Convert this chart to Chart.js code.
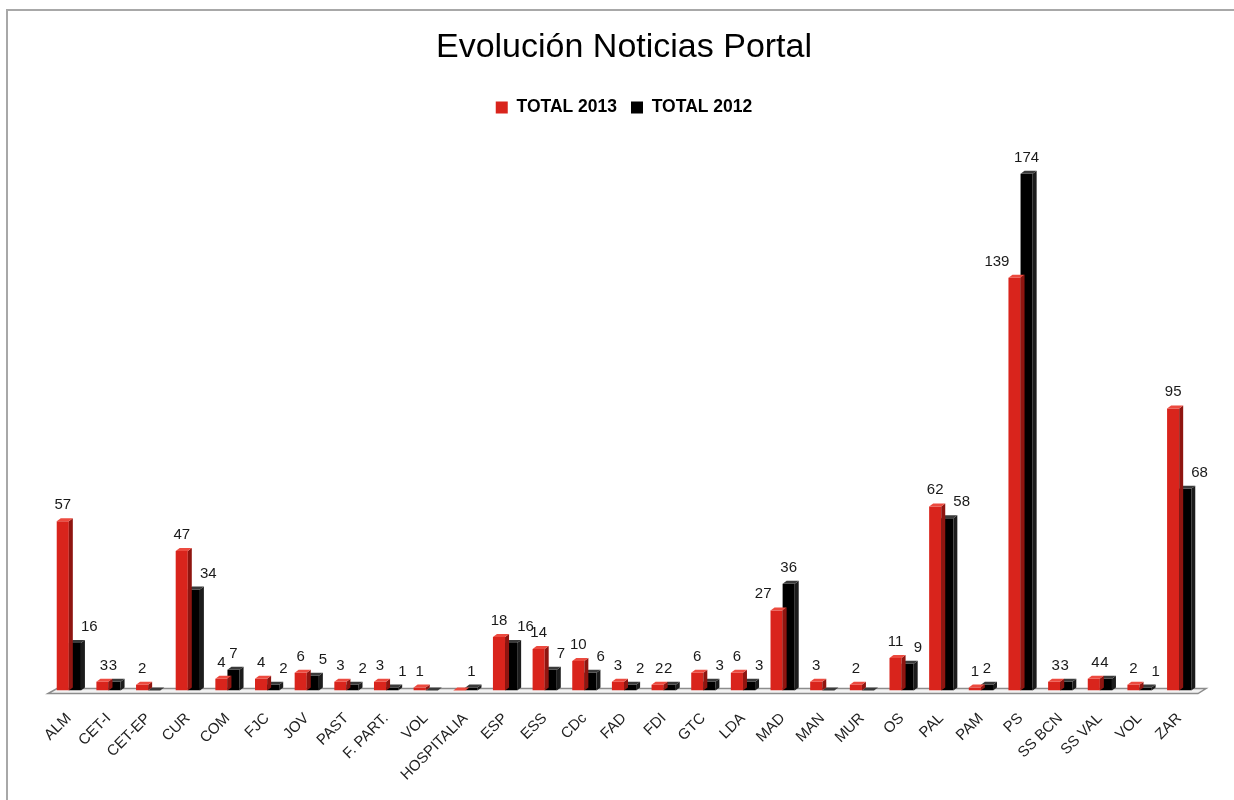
<!DOCTYPE html>
<html>
<head>
<meta charset="utf-8">
<script src="https://cdn.jsdelivr.net/npm/chart.js@4.4.0/dist/chart.umd.min.js"></script>
<style>
  html, body { margin: 0; padding: 0; background: #fff; }
  #wrap { width: 1234px; height: 800px; }
</style>
</head>
<body>
<div id="wrap"><canvas id="chart" width="1234" height="800"></canvas></div>
<script>
// datos
const categories = ["ALM", "CET-I", "CET-EP", "CUR", "COM", "FJC", "JOV", "PAST", "F. PART.", "VOL",
  "HOSPITALIA", "ESP", "ESS", "CDc", "FAD", "FDI", "GTC", "LDA", "MAD", "MAN",
  "MUR", "OS", "PAL", "PAM", "PS", "SS BCN", "SS VAL", "VOL", "ZAR"];
const total2013 = [57, 3, 2, 47, 4, 4, 6, 3, 3, 1, 0, 18, 14, 10, 3, 2, 6, 6, 27, 3, 2, 11, 62, 1, 139, 3, 4, 2, 95];
const total2012 = [16, 3, 0, 34, 7, 2, 5, 2, 1, 0, 1, 16, 7, 6, 2, 2, 3, 3, 36, 0, 0, 9, 58, 2, 174, 3, 4, 1, 68];
const seriesNames = ["TOTAL 2013", "TOTAL 2012"];

const FONT = "'Liberation Sans', Arial, sans-serif";
const frontColors = ["#d9241c", "#000000"];
const sideColors  = ["#8f1510", "#1c1c1c"];
const topColors   = ["#ec4a3f", "#3a3a3a"];
const D = 4; // profundidad del efecto 3D

// ============================================================
// PLUGINS
// ============================================================
const frame = {
  id: "frame",
  beforeDraw(chart) {
    const ctx = chart.ctx;
    ctx.save();
    ctx.fillStyle = "#fff";
    ctx.fillRect(0, 0, chart.width, chart.height);
    ctx.strokeStyle = "#a8a8a8";
    ctx.lineWidth = 2;
    ctx.beginPath();
    ctx.moveTo(7, chart.height);
    ctx.lineTo(7, 10);
    ctx.lineTo(chart.width, 10);
    ctx.stroke();
    ctx.restore();
  }
};

const floor = {
  id: "floor",
  beforeDatasetsDraw(chart) {
    const ctx = chart.ctx;
    const y0 = chart.scales.y.getPixelForValue(0);
    const { left, right } = chart.chartArea;
    ctx.save();
    ctx.fillStyle = "#f2f2f2";
    ctx.strokeStyle = "#8c8c8c";
    ctx.lineWidth = 1.5;
    ctx.beginPath();
    ctx.moveTo(left - 1, y0 + 3);
    ctx.lineTo(right - 1, y0 + 3);
    ctx.lineTo(right + 7, y0 - 2);
    ctx.lineTo(left + 8, y0 - 2);
    ctx.closePath();
    ctx.fill();
    ctx.stroke();
    ctx.restore();
  }
};

const bar3d = {
  id: "bar3d",
  afterDatasetDraw(chart, args) {
    const ctx = chart.ctx;
    const i = args.index;
    const dy = D * 0.75;
    ctx.save();
    args.meta.data.forEach(bar => {
      const { x, y, base, width } = bar.getProps(["x", "y", "base", "width"], true);
      const l = x - width / 2, r = x + width / 2;
      ctx.fillStyle = sideColors[i];
      ctx.beginPath();
      ctx.moveTo(r, y);
      ctx.lineTo(r + D, y - dy);
      ctx.lineTo(r + D, base - dy);
      ctx.lineTo(r, base);
      ctx.closePath();
      ctx.fill();
      ctx.fillStyle = topColors[i];
      ctx.beginPath();
      ctx.moveTo(l, y);
      ctx.lineTo(l + D, y - dy);
      ctx.lineTo(r + D, y - dy);
      ctx.lineTo(r, y);
      ctx.closePath();
      ctx.fill();
    });
    ctx.restore();
  }
};

const valueLabels = {
  id: "valueLabels",
  afterDatasetsDraw(chart) {
    const ctx = chart.ctx;
    ctx.save();
    ctx.font = "15px " + FONT;
    ctx.fillStyle = "#1a1a1a";
    ctx.textBaseline = "alphabetic";
    chart.data.datasets.forEach((ds, di) => {
      const other = chart.data.datasets[1 - di].data;
      chart.getDatasetMeta(di).data.forEach((bar, i) => {
        const v = ds.data[i];
        if (!v) return;
        let x = bar.x, align = "center";
        if (di === 1 && other[i] > v) { x = bar.x + bar.width / 2; align = "left"; }
        if (di === 0 && other[i] > v + 3) { x = bar.x - bar.width / 2 + 1; align = "right"; }
        // etiquetas iguales muy juntas, como en el original
        if (other[i] === v) { x = bar.x + (di === 0 ? 1.5 : -1.5); }
        ctx.textAlign = align;
        ctx.fillText(String(v), x, bar.y - 12);
      });
    });
    ctx.restore();
  }
};

// ============================================================
// GRÁFICO
// ============================================================
Chart.defaults.font.family = FONT;

new Chart(document.getElementById("chart").getContext("2d"), {
  type: "bar",
  data: {
    labels: categories,
    datasets: [
      { label: seriesNames[0], data: total2013, backgroundColor: frontColors[0], borderColor: frontColors[0], borderWidth: 0 },
      { label: seriesNames[1], data: total2012, backgroundColor: frontColors[1], borderColor: frontColors[1], borderWidth: 0 }
    ].map(d => Object.assign(d, { categoryPercentage: 0.61, barPercentage: 1 }))
  },
  options: {
    responsive: false,
    animation: false,
    devicePixelRatio: 1,
    layout: { padding: { left: 49, right: 35, top: 0, bottom: -3 } },
    plugins: {
      title: {
        display: true,
        text: "Evolución Noticias Portal",
        color: "#000",
        font: { size: 34, weight: "normal" },
        padding: { top: 27, bottom: 17 }
      },
      legend: {
        labels: {
          color: "#000",
          font: { size: 17.5, weight: "bold" },
          boxWidth: 12,
          boxHeight: 12,
          padding: 14
        }
      },
      tooltip: { enabled: false }
    },
    scales: {
      x: {
        grid: { display: false, drawTicks: false },
        border: { display: false },
        ticks: { autoSkip: false, maxRotation: 45, minRotation: 45, padding: 19, color: "#222", font: { size: 15 } }
      },
      y: { display: false, min: 0, max: 190 }
    }
  },
  plugins: [frame, floor, bar3d, valueLabels]
});
</script>
</body>
</html>
